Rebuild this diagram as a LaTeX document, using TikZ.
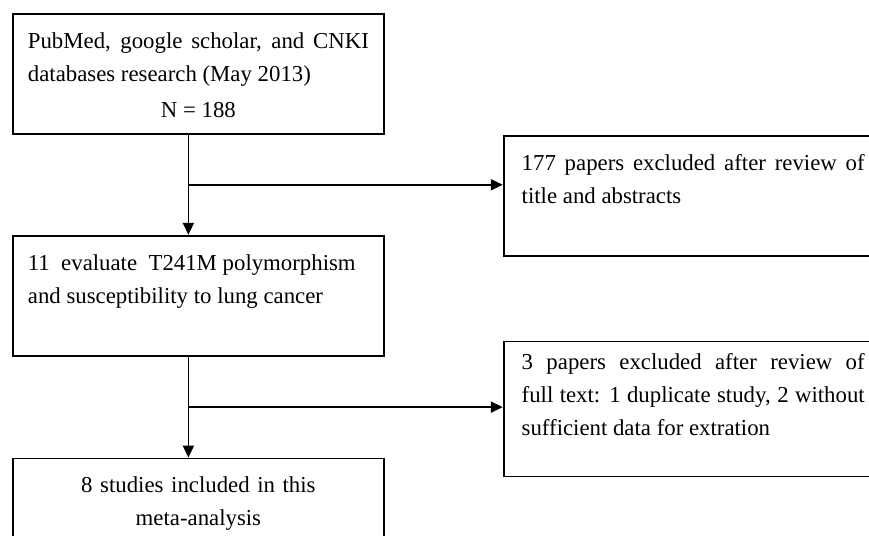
\documentclass[tikz,border=0pt]{standalone}
\usepackage{fontspec}
\setmainfont{Liberation Serif}
\usetikzlibrary{arrows.meta,positioning,calc}
\sloppy
\hyphenpenalty=10000
\exhyphenpenalty=10000

\begin{document}
\begin{tikzpicture}[
    x=1pt, y=1pt,
    node distance=100pt and 118pt,
    stage/.style={rectangle, draw=black, line width=1.8pt, align=justify, text width=341pt, inner xsep=15pt, inner ysep=0pt, text height=35pt, text depth=85pt, font=\fontsize{22.8pt}{33pt}\selectfont},
    excluded/.style={stage, text width=343pt, inner xsep=18pt},
    arrow/.style={-{Triangle[length=12pt, width=11pt]}, line width=1.8pt}
]
\useasboundingbox (0,0) rectangle (869,-535);
\clip (0,0) rectangle (869,-535);

\node[stage, anchor=north west] (search) at (12,-13) {PubMed, google scholar, and CNKI databases research (May 2013)\par\vspace{3pt}\makebox[\linewidth]{N = 188}};
\node[stage, below=of search] (eligible) {11~~evaluate~~T241M polymorphism\\and susceptibility to lung cancer};
\node[stage, below=101pt of eligible, align=center, text height=34pt] (included) {8 studies included in this\\meta-analysis};
\node[excluded, right=of search.south east, anchor=north west] (excl1) {177 papers excluded after review of title and abstracts};
\node[excluded, right=of eligible.south east, anchor=north west, yshift=16pt, text height=28pt, text depth=107pt] (excl2) {3 papers excluded after review of\linebreak full text: 1 duplicate study, 2 without sufficient data for extration};

\coordinate (split1) at ($([xshift=-10pt]search.south)!0.5!([xshift=-10pt]eligible.north)$);
\coordinate (split2) at ($([xshift=-10pt]eligible.south)!0.5!([xshift=-10pt]included.north)$);

\draw[arrow] ([xshift=-10pt]search.south) -- ([xshift=-10pt]eligible.north);
\draw[arrow] (split1) -- (split1 -| excl1.west);
\draw[arrow] ([xshift=-10pt]eligible.south) -- ([xshift=-10pt]included.north);
\draw[arrow] (split2) -- (split2 -| excl2.west);
\end{tikzpicture}
\end{document}
